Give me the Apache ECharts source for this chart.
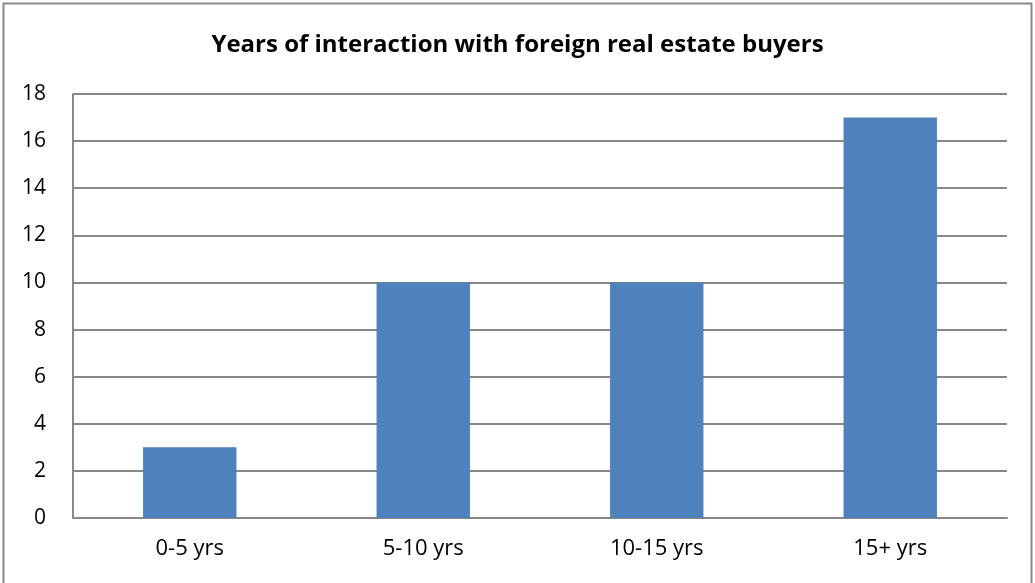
<!DOCTYPE html>
<html>
<head>
<meta charset="utf-8">
<script src="https://cdn.jsdelivr.net/npm/echarts@6/dist/echarts.min.js"></script>
<style>
html,body{margin:0;padding:0;background:#fff;}
#chart{width:1035px;height:583px;}
</style>
</head>
<body>
<div id="chart"></div>
<script>
const titleText = 'Years of interaction with foreign real estate buyers';
const categories = ['0-5 yrs', '5-10 yrs', '10-15 yrs', '15+ yrs'];
const values = [3, 10, 10, 17];
const yTicks = {min: 0, max: 18, interval: 2};

const chart = echarts.init(document.getElementById('chart'), null, {renderer: 'canvas'});
const font = '"Open Sans", "Liberation Sans", sans-serif';
chart.setOption({
  animation: false,
  backgroundColor: '#fff',
  title: {
    text: titleText,
    left: 'center',
    top: 28,
    textStyle: {fontFamily: font, fontSize: 24, fontWeight: 'bold', color: '#000'}
  },
  graphic: [{
    type: 'rect',
    shape: {x: 3.5, y: 3.5, width: 1028, height: 600},
    style: {fill: 'none', stroke: '#888', lineWidth: 2},
    silent: true
  }],
  grid: {left: 73, right: 28, top: 94, bottom: 65, containLabel: false},
  xAxis: {
    type: 'category',
    data: categories,
    axisTick: {show: false},
    axisLine: {show: true, lineStyle: {color: '#888', width: 2}},
    axisLabel: {fontFamily: font, fontSize: 22, color: '#000', margin: 20}
  },
  yAxis: {
    type: 'value',
    min: yTicks.min, max: yTicks.max, interval: yTicks.interval,
    axisLine: {show: true, lineStyle: {color: '#888', width: 2}},
    axisTick: {show: false},
    splitLine: {show: true, lineStyle: {color: '#888', width: 2}},
    axisLabel: {fontFamily: font, fontSize: 21, color: '#000', margin: 27}
  },
  series: [{
    type: 'bar',
    data: values,
    barWidth: '40%',
    itemStyle: {color: '#4F81BD'}
  }]
});
</script>
</body>
</html>
